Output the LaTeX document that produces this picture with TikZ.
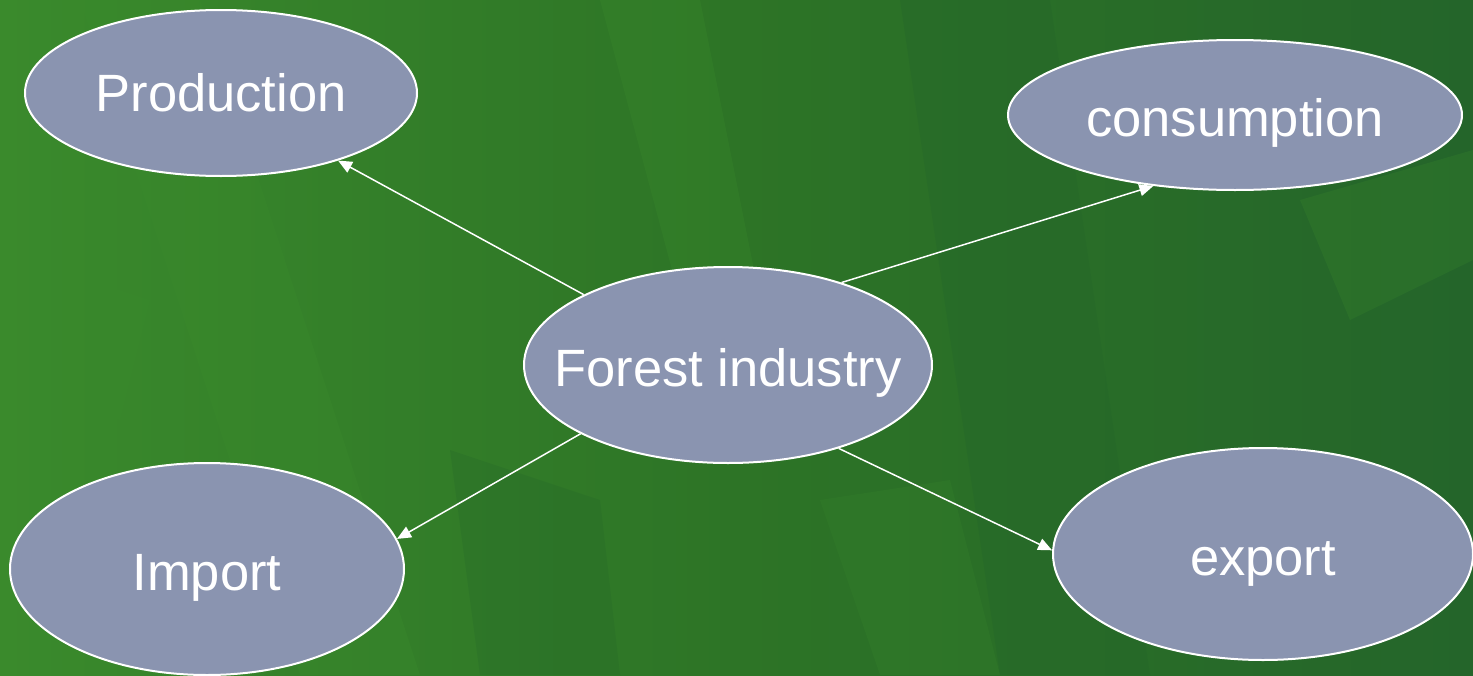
\documentclass[tikz,border=0pt]{standalone}
\usepackage{fontspec}
\setmainfont{Liberation Sans}
\usetikzlibrary{shapes.geometric,arrows.meta}
\definecolor{bgA}{HTML}{2D7426}
\definecolor{bgB}{HTML}{3A8A2C}
\definecolor{bgC}{HTML}{24652A}
\definecolor{ovalfill}{HTML}{8A94B0}
\tikzset{
  oval/.style={ellipse, draw=white, line width=1pt, fill=ovalfill, inner sep=0pt,
    text=white, font=\fontsize{26.25pt}{30pt}\selectfont, text depth=5.5pt, text height=26.8pt},
  link/.style={draw=white, line width=0.75pt, -{Triangle[length=7pt,width=6pt]}}
}
\begin{document}
\begin{tikzpicture}[x=0.5pt,y=-0.5pt]
\useasboundingbox (0,0) rectangle (1473,675);
% background
\shade[left color=bgB, right color=bgC, middle color=bgA] (0,0) rectangle (1473,675);
\begin{scope}
\clip (0,0) rectangle (1473,675);
\fill[bgB, opacity=0.35] (80,0) -- (200,0) -- (420,675) -- (300,675) -- cycle;
\fill[bgB, opacity=0.3] (600,0) -- (700,0) -- (760,300) -- (680,300) -- cycle;
\fill[bgC, opacity=0.35] (900,0) -- (1050,0) -- (1150,675) -- (1000,675) -- cycle;
\fill[bgB, opacity=0.25] (1300,200) -- (1473,150) -- (1473,260) -- (1350,320) -- cycle;
\fill[bgB, opacity=0.25] (0,250) -- (150,300) -- (120,420) -- (0,400) -- cycle;
\fill[bgC, opacity=0.25] (450,450) -- (600,500) -- (620,675) -- (480,675) -- cycle;
\fill[bgB, opacity=0.2] (820,500) -- (950,480) -- (1000,675) -- (880,675) -- cycle;
\end{scope}
% nodes
\node[oval, minimum width=196pt, minimum height=83pt, text height=23.5pt] (prod) at (221,93) {Production};
\node[oval, minimum width=227pt, minimum height=75pt] (cons) at (1235,115) {consumption};
\node[oval, minimum width=204pt, minimum height=98pt, inner xsep=-15pt] (fi) at (728,365) {Forest industry};
\node[oval, minimum width=197pt, minimum height=106pt] (imp) at (207,569) {Import};
\node[oval, minimum width=210pt, minimum height=106pt] (exp) at (1263,554) {export};
% connectors
\draw[link] (fi.154.2) -- (prod.330.7);
\draw[link] (fi.36.1) -- (cons.221);
\draw[link] (fi.205.4) -- (imp.9.7);
\draw[link] (fi.323.6) -- (exp.179.5);
\end{tikzpicture}
\end{document}
